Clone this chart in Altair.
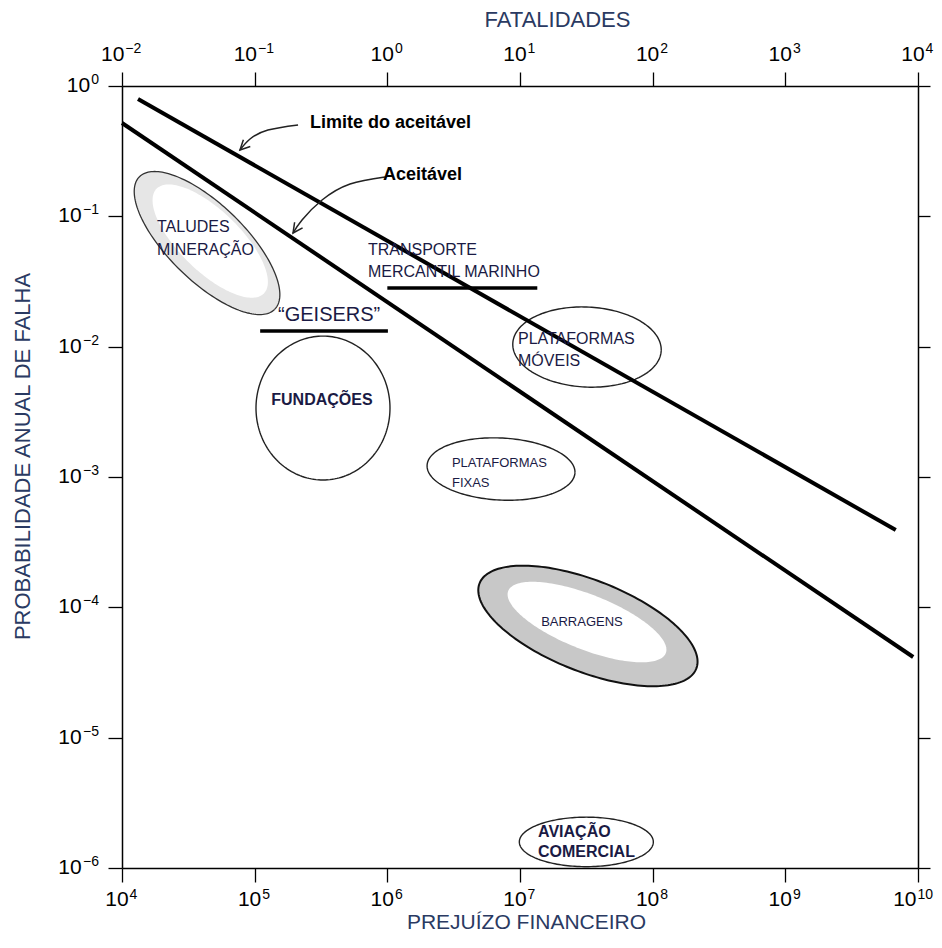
import altair as alt
import numpy as np
import pandas as pd

FONT = "Liberation Sans"
NAVY = "#1a1a44"
TITLE_C = "#2a3a62"

# ---------------- axes ----------------
x_ticks = [1e4, 1e5, 1e6, 1e7, 1e8, 1e9, 1e10]          # prejuízo financeiro
y_ticks = [1e-6, 1e-5, 1e-4, 1e-3, 1e-2, 1e-1, 1e0]      # probabilidade anual
fat_ticks = [1e-2, 1e-1, 1e0, 1e1, 1e2, 1e3, 1e4]        # fatalidades

# ---------------- criteria lines ----------------
line_name = ["Limite do aceitável", "Limite do aceitável", "Aceitável", "Aceitável"]
line_x = [1.32e4, 6.8e9, 1.0e4, 9.2e9]
line_y = [0.795, 3.92e-4, 0.52, 4.16e-5]

# ---------------- regions (ellipses in log10 space) ----------------
ell_name = ["taludes", "taludes_in", "fundacoes", "moveis", "fixas",
            "barragens", "barragens_in", "aviacao"]
ell_cx = [4.641, 4.665, 5.515, 7.505, 6.857, 7.512, 7.505, 7.500]
ell_cy = [-1.205, -1.190, -2.471, -2.003, -2.939, -4.143, -4.113, -5.800]
ell_a = [0.72, 0.57, 0.505, 0.56, 0.558, 0.88, 0.64, 0.505]
ell_b = [0.29, 0.23, 0.552, 0.307, 0.238, 0.35, 0.21, 0.19]
ell_tilt = [-45, -45, 0, -3, -3, -22, -22, 0]
ell_style = {
    "taludes": dict(fill="#e6e6e6", stroke="#333333", strokeWidth=1.3),
    "taludes_in": dict(fill="white", stroke="white", strokeWidth=0),
    "fundacoes": dict(fill="white", stroke="#222222", strokeWidth=1.4),
    "moveis": dict(fill="white", stroke="#222222", strokeWidth=1.4),
    "fixas": dict(fill="white", stroke="#222222", strokeWidth=1.4),
    "barragens": dict(fill="#c8c8c8", stroke="#111111", strokeWidth=2),
    "barragens_in": dict(fill="white", stroke="white", strokeWidth=0),
    "aviacao": dict(fill="white", stroke="#222222", strokeWidth=1.4),
}

# ---------------- underlines ----------------
ul_x = [1.1e5, 1.0e6]
ul_x2 = [1.01e6, 1.35e7]
ul_y = [1.32e-2, 2.82e-2]

# ---------------- arrows ----------------
arr_id = [1, 1, 1, 1, 2, 2, 2, 2, 2]
arr_lx = [5.327, 5.100, 4.965, 4.889, 5.982, 5.719, 5.508, 5.357, 5.289]
arr_ly = [-0.299, -0.338, -0.407, -0.491, -0.698, -0.752, -0.875, -1.028, -1.128]
head_angle = [225, 215]

# ---------------- labels ----------------
lab_text = ["Limite do aceitável", "Aceitável",
            "TALUDES", "MINERAÇÃO", "TRANSPORTE", "MERCANTIL MARINHO",
            "PLATAFORMAS", "MÓVEIS",
            "“GEISERS”",
            "FUNDAÇÕES",
            "PLATAFORMAS", "FIXAS",
            "BARRAGENS",
            "AVIAÇÃO", "COMERCIAL"]
lab_lx = [5.417, 5.967, 4.264, 4.264, 5.854, 5.854, 6.985, 6.985, 5.176,
          5.507, 6.487, 6.487, 7.467, 7.136, 7.136]
lab_ly = [-0.284, -0.683, -1.082, -1.258, -1.258, -1.427, -1.941, -2.110, -1.757,
          -2.409, -2.893, -3.046, -4.113, -5.724, -5.877]
lab_group = ["crit", "crit", "reg", "reg", "reg", "reg", "reg", "reg", "geis",
             "fund", "small", "small", "smallc", "avi", "avi"]
lab_style = {
    "crit": dict(fontSize=18, fontWeight="bold", color="black", align="left"),
    "reg": dict(fontSize=16, fontWeight="normal", color=NAVY, align="left"),
    "geis": dict(fontSize=20, fontWeight="normal", color=NAVY, align="left"),
    "fund": dict(fontSize=16, fontWeight="bold", color=NAVY, align="center"),
    "small": dict(fontSize=13, fontWeight="normal", color=NAVY, align="left"),
    "smallc": dict(fontSize=13, fontWeight="normal", color=NAVY, align="center"),
    "avi": dict(fontSize=16, fontWeight="bold", color=NAVY, align="left"),
}

# ---------------- scales / axes ----------------
xscale = alt.Scale(type="log", domain=[1e4, 1e10], nice=False)
yscale = alt.Scale(type="log", domain=[1e-6, 1], nice=False)
fscale = alt.Scale(type="log", domain=[1e-2, 1e4], nice=False)

base_axis = dict(grid=False, domainColor="black", domainWidth=1.5,
                 tickColor="black", tickWidth=1.3, labels=False,
                 titleFont=FONT, titleFontSize=22, titleFontWeight="normal",
                 titleColor=TITLE_C, titleAlign="center", titleBaseline="middle")

xaxis = alt.Axis(values=x_ticks, orient="bottom", tickSize=14,
                 title="PREJUÍZO FINANCEIRO", titleX=404, titleY=54,
                 **{**base_axis, "titleFontSize": 21})
yaxis = alt.Axis(values=y_ticks, orient="left", tickSize=14,
                 title="PROBABILIDADE ANUAL DE FALHA", titleX=-100, titleY=370,
                 titleAngle=270, **base_axis)
top_axis = alt.Axis(values=fat_ticks, orient="top", tickSize=14,
                    title="FATALIDADES", titleX=435, titleY=-67, **base_axis)
right_axis = alt.Axis(values=y_ticks, orient="right", tickSize=12, labels=False,
                      title=None, grid=False, domainColor="black",
                      domainWidth=1.5, tickColor="black", tickWidth=1.3)


def X(field="x"):
    return alt.X(f"{field}:Q", scale=xscale, axis=xaxis)


def Y(field="y"):
    return alt.Y(f"{field}:Q", scale=yscale, axis=yaxis)


def exp_parts(v):
    e = int(round(np.log10(v)))
    s = ("−" if e < 0 else "") + str(abs(e))
    w = 7.8 * len(str(abs(e))) + (8.5 if e < 0 else 0)
    return s, w


BASE_FS, EXP_FS = 21, 14


def tick_label_layers(values, side, xsc, xax, yax):
    """'10' + smaller raised exponent, as two text marks per label."""
    rows = []
    for v in values:
        s, w = exp_parts(v)
        rows.append({"v": v, "exp": s, "w": round(w, 1)})
    df = pd.DataFrame(rows)
    out = []
    for w, sub in df.groupby("w"):
        if side == "left":
            sub = sub.assign(xx=1e4, yy=sub["v"])
            b_dx, b_dy, b_al = -23 - w - 1, 0, "right"
            e_dx, e_dy, e_al = -23, -6, "right"
        else:
            seam = (21 - w) / 2
            if side == "bottom" and w > 15:   # 10^10 sits at the right edge
                seam = -1.5
            yv = 1e-6 if side == "bottom" else 1.0
            sub = sub.assign(xx=sub["v"], yy=yv)
            if side == "bottom":
                b_dy, e_dy = 32, 27
            else:
                b_dy, e_dy = -31, -37
            b_dx, b_al = seam, "right"
            e_dx, e_al = seam + 1, "left"
        enc = dict(x=alt.X("xx:Q", scale=xsc, axis=xax),
                   y=alt.Y("yy:Q", scale=yscale, axis=yax))
        base = alt.Chart(sub)
        out.append(base.mark_text(text="10", font=FONT, fontSize=BASE_FS,
                                  color="black", align=b_al, baseline="middle",
                                  dx=b_dx, dy=b_dy).encode(**enc))
        out.append(base.mark_text(font=FONT, fontSize=EXP_FS, color="black",
                                  align=e_al, baseline="middle",
                                  dx=e_dx, dy=e_dy).encode(text="exp:N", **enc))
    return out


layers = []

# ellipses
t = np.linspace(0, 2 * np.pi, 181)
for name, cx, cy, a, b, tilt in zip(ell_name, ell_cx, ell_cy, ell_a, ell_b, ell_tilt):
    th = np.radians(tilt)
    u, v = a * np.cos(t), b * np.sin(t)
    lx = cx + u * np.cos(th) - v * np.sin(th)
    ly = cy + u * np.sin(th) + v * np.cos(th)
    df = pd.DataFrame({"x": 10 ** lx, "y": 10 ** ly, "i": np.arange(len(t))})
    layers.append(
        alt.Chart(df).mark_line(interpolate="linear", **ell_style[name]).encode(
            x=X(), y=Y(), order="i:Q")
    )

# criteria lines
lines_df = pd.DataFrame({"name": line_name, "x": line_x, "y": line_y})
layers.append(
    alt.Chart(lines_df).mark_line(color="black", strokeWidth=4).encode(
        x=X(), y=Y(), detail="name:N")
)

# underlines
ul_df = pd.DataFrame({"x": ul_x, "x2": ul_x2, "y": ul_y})
layers.append(
    alt.Chart(ul_df).mark_rule(color="black", strokeWidth=3.5).encode(
        x=X(), x2="x2:Q", y=Y())
)

# arrows
arr_df = pd.DataFrame({"id": arr_id, "x": [10 ** v for v in arr_lx],
                       "y": [10 ** v for v in arr_ly],
                       "i": list(range(len(arr_id)))})
layers.append(
    alt.Chart(arr_df).mark_line(color="#222222", strokeWidth=1.5,
                                interpolate="natural").encode(
        x=X(), y=Y(), detail="id:N", order="i:Q")
)
heads = arr_df.groupby("id").tail(1).reset_index(drop=True)
heads["angle"] = head_angle
layers.append(
    alt.Chart(heads).mark_point(shape="M -0.5 1 L 0 0 L 0.5 1", filled=False,
                                color="#222222", strokeWidth=1.5, size=380,
                                opacity=1).encode(
        x=X(), y=Y(), angle=alt.Angle("angle:Q", scale=None))
)

# labels
lab_df = pd.DataFrame({"text": lab_text, "x": [10 ** v for v in lab_lx],
                       "y": [10 ** v for v in lab_ly], "g": lab_group})
for g, st in lab_style.items():
    layers.append(
        alt.Chart(lab_df).transform_filter(alt.datum.g == g).mark_text(
            font=FONT, baseline="middle", **st).encode(
            x=X(), y=Y(), text="text:N")
    )

# tick labels of bottom and left axes
layers += tick_label_layers(x_ticks, "bottom", xscale, xaxis, yaxis)
layers += tick_label_layers(y_ticks, "left", xscale, xaxis, yaxis)

main = alt.layer(*layers)

# top (fatalidades) and right axes
top_df = pd.DataFrame({"f": fat_ticks, "p": y_ticks})
top_layers = [alt.Chart(top_df).mark_point(opacity=0).encode(
    x=alt.X("f:Q", scale=fscale, axis=top_axis),
    y=alt.Y("p:Q", scale=yscale, axis=right_axis),
)]
top_layers += tick_label_layers(fat_ticks, "top", fscale, top_axis, right_axis)
top = alt.layer(*top_layers)

chart = alt.layer(main, top).resolve_scale(x="independent", y="independent").properties(
    width=796, height=782,
    autosize="none",
    padding={"left": 114, "top": 78, "right": 16, "bottom": 66},
    background="white",
).configure_view(stroke=None)

chart.save("out.html", embed_options={"renderer": "svg", "actions": False})
